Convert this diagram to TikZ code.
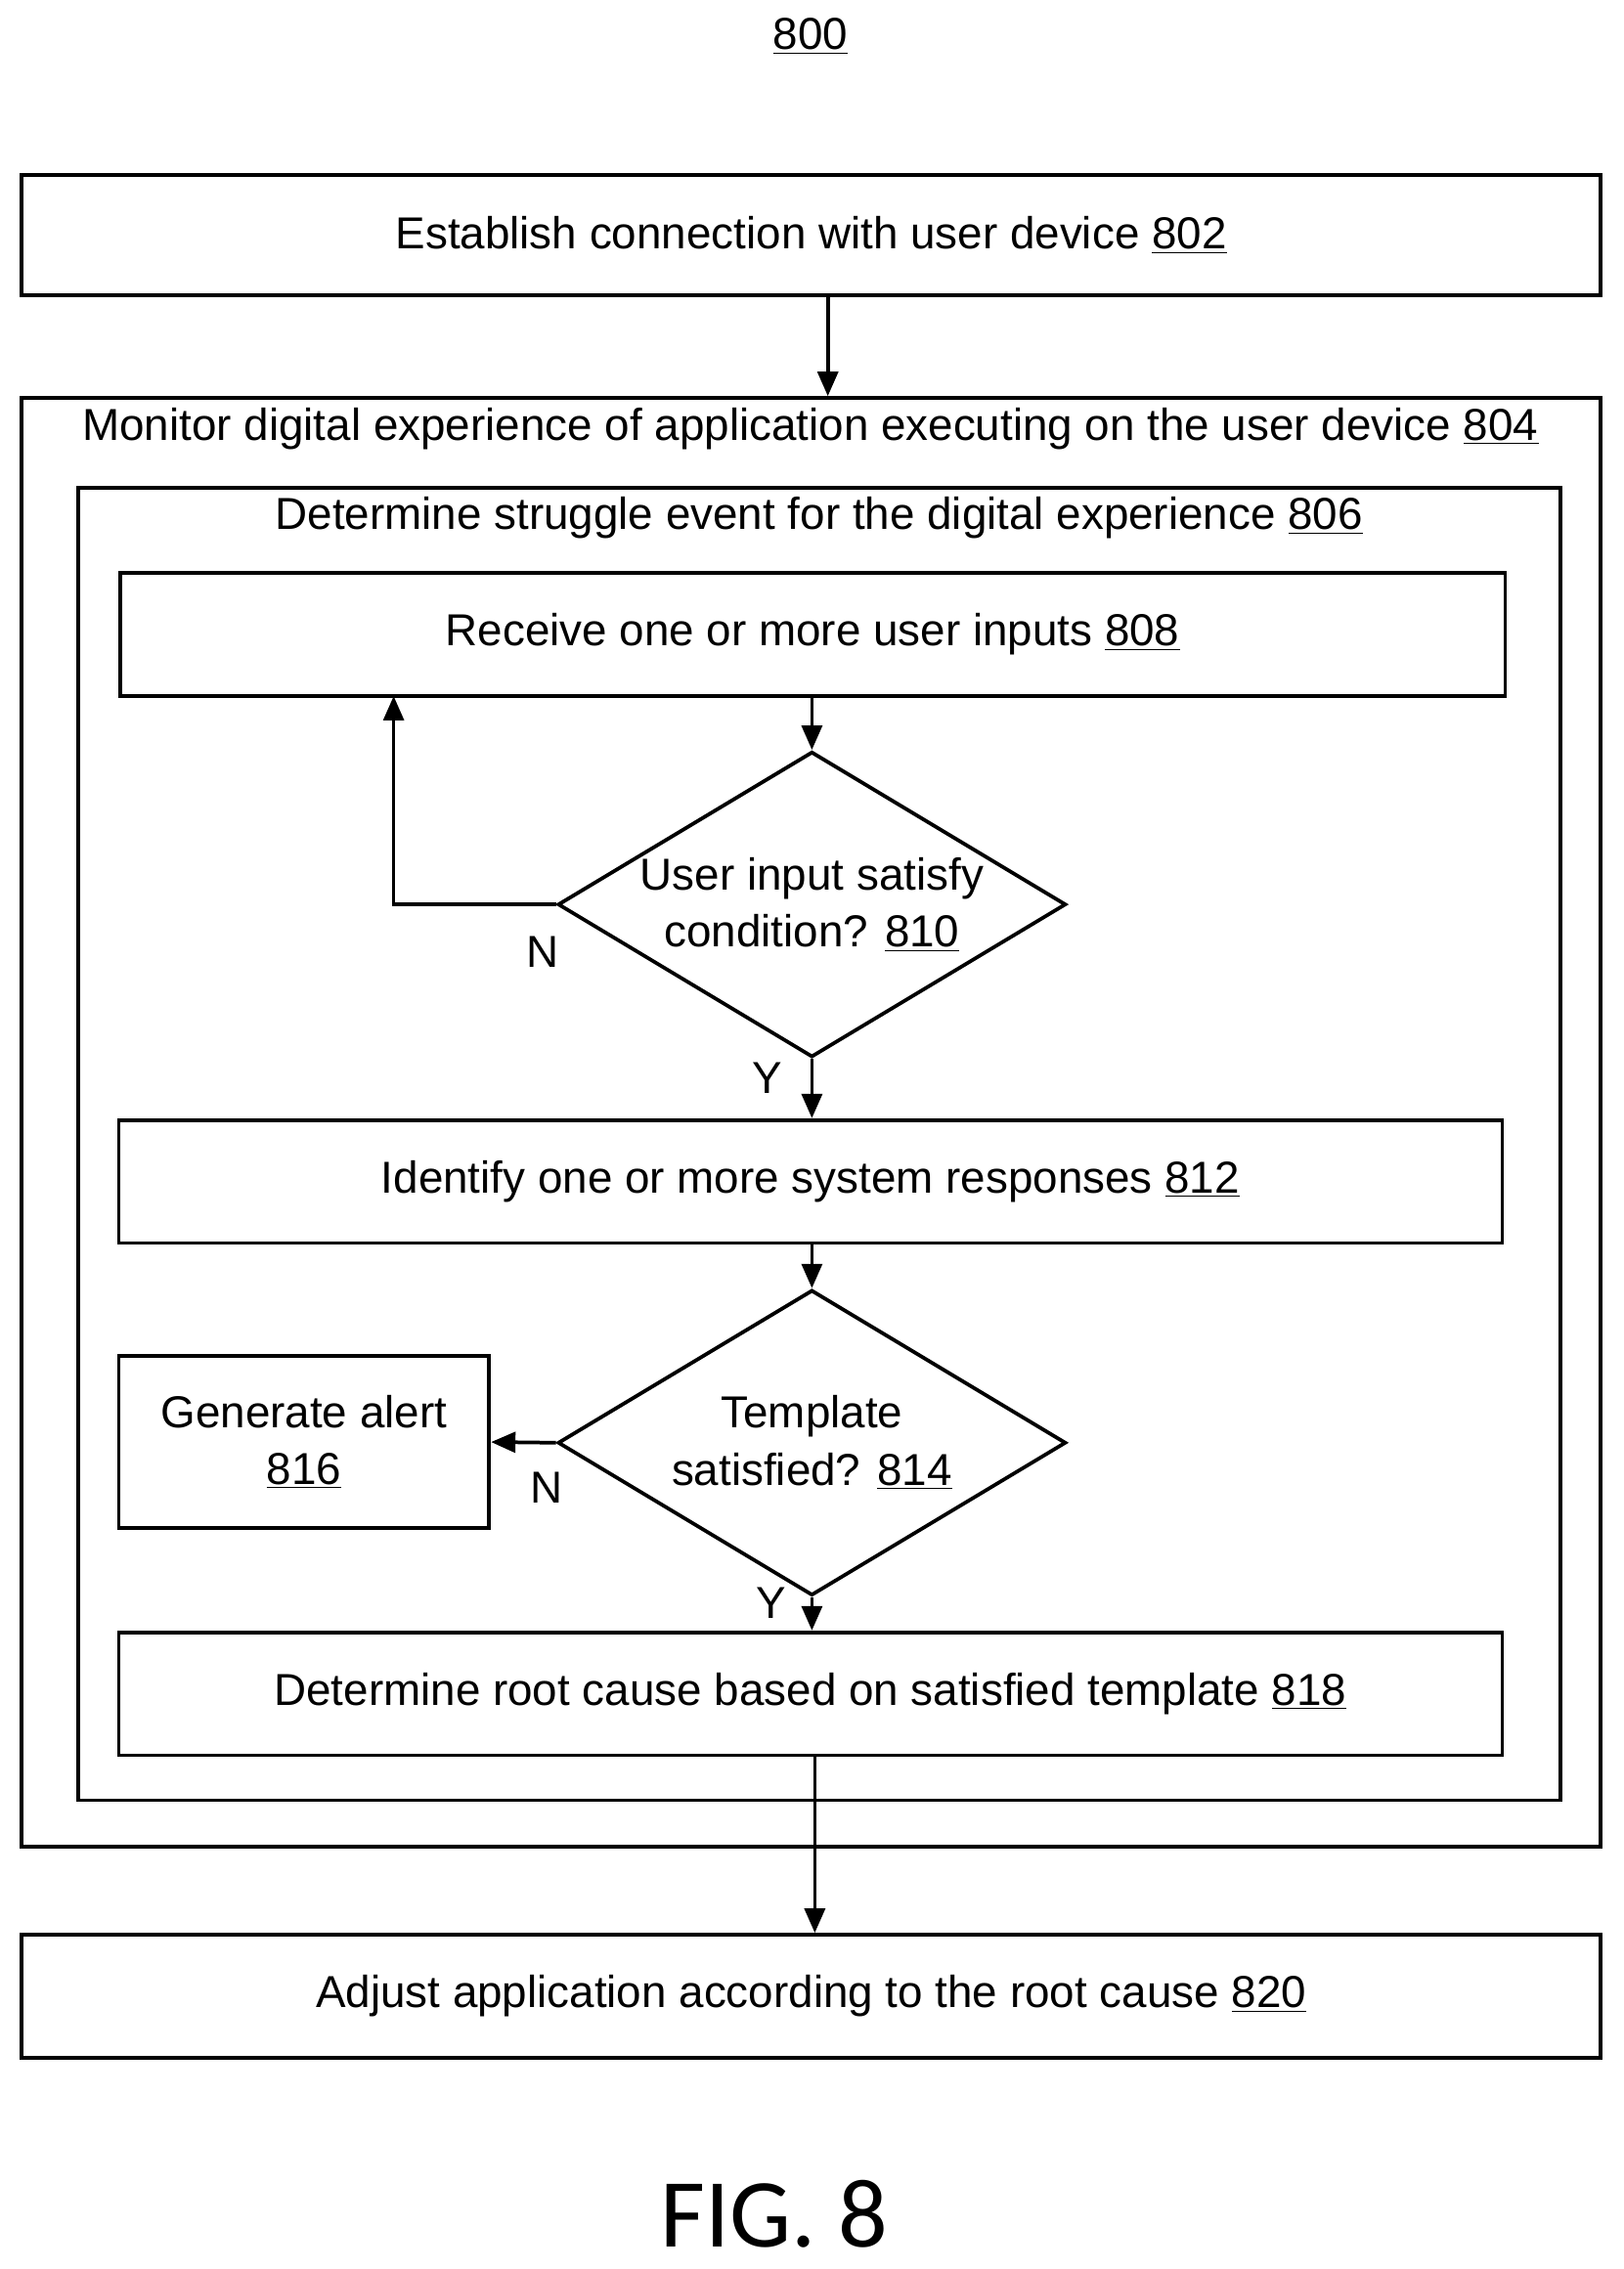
\documentclass[tikz,border=0pt]{standalone}
\usepackage{fontspec}
\setmainfont{Liberation Sans}
\newfontfamily\figfont{Carlito}
\usetikzlibrary{shapes.geometric,fit,arrows.meta}
\begin{document}
\begin{tikzpicture}[x=0.025cm,y=-0.025cm,
  every node/.style={font=\fontsize{22}{28}\selectfont},
  box/.style={draw,line width=1.8pt,inner sep=0pt},
  dia/.style={draw,line width=1.8pt,diamond,aspect=1.66,inner sep=0pt,minimum width=8.775cm,minimum height=5.275cm,align=center},
  arr/.style={line width=1.8pt,-{Triangle[length=12pt,width=10pt]}},
  lbl/.style={inner sep=0pt,align=center}]
\useasboundingbox (0,0) rectangle (1122,1568);
\node[lbl] (t800) at (560,25) {\underline{800}};
\node[box,fit={(15,121)(1106,204)}] (b802) {};
\node[lbl] (l802) at (b802.center) {Establish connection with user device \underline{802}};
\node[box,fit={(15,275)(1106,1276)}] (b804) {};
\node[lbl] (t804) at (560,296) {Monitor digital experience of application executing on the user device \underline{804}};
\node[box,fit={(54,337)(1078,1244)}] (b806) {};
\node[lbl] (t806) at (566,358) {Determine struggle event for the digital experience \underline{806}};
\node[box,fit={(83,396)(1040,481)}] (b808) {};
\node[lbl] (l808) at (b808.center) {Receive one or more user inputs \underline{808}};
\node[dia] (d810) at (561,625) {User input satisfy\\condition? \underline{810}};
\node[box,fit={(82,774)(1038,859)}] (b812) {};
\node[lbl] (l812) at (b812.center) {Identify one or more system responses \underline{812}};
\node[dia] (d814) at (561,997) {Template\\satisfied? \underline{814}};
\node[box,fit={(82,937)(338,1056)}] (b816) {};
\node[lbl] (l816) at (b816.center) {Generate alert\\\underline{816}};
\node[box,fit={(82,1128)(1038,1213)}] (b818) {};
\node[lbl] (l818) at (b818.center) {Determine root cause based on satisfied template \underline{818}};
\node[box,fit={(15,1337)(1106,1422)}] (b820) {};
\node[lbl] (l820) at (b820.center) {Adjust application according to the root cause \underline{820}};
\node[lbl,font=\figfont\fontsize{48}{52}\selectfont] (fig) at (535,1530) {FIG. 8};
\coordinate (c1) at (272,625);
\coordinate (c2) at (272,481);
\draw[arr] (b802.south -| 572,0) -- (b804.north -| 572,0);
\draw[arr] (b808.south -| d810.north) -- (d810.north);
\draw[arr] (d810.west) -- (c1) -- (c2);
\draw[arr] (d810.south) -- (b812.north -| d810.south);
\draw[arr] (b812.south -| d814.north) -- (d814.north);
\draw[arr] (d814.west) -- (b816.east);
\draw[arr] (d814.south) -- (b818.north -| d814.south);
\draw[arr] (b818.south -| 563,0) -- (b820.north -| 563,0);
\node[lbl] (n1) at (375,658) {N};
\node[lbl] (y1) at (530,745) {Y};
\node[lbl] (n2) at (378,1028) {N};
\node[lbl] (y2) at (533,1108) {Y};
\end{tikzpicture}
\end{document}
